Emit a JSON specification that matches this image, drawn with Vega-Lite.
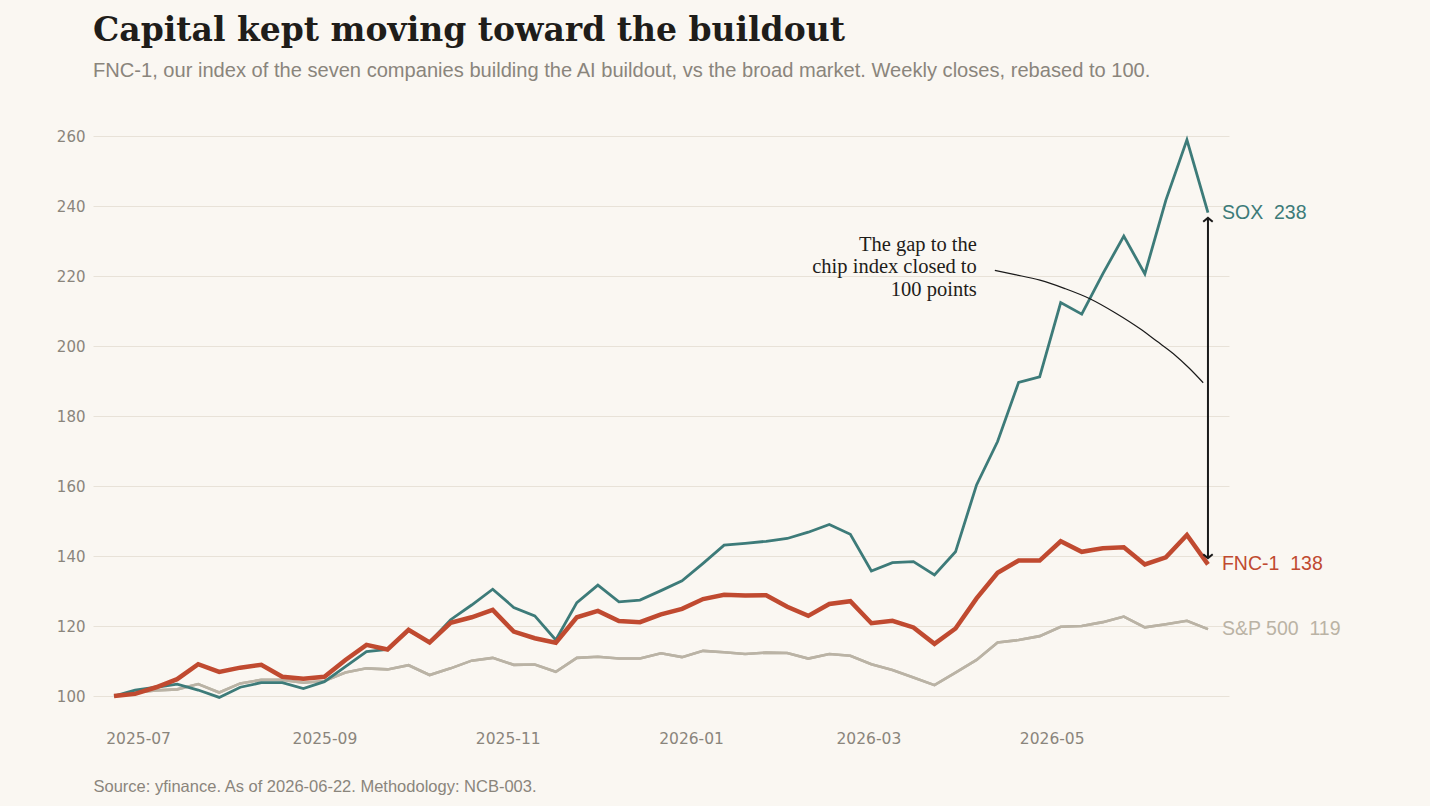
{
  "$schema": "https://vega.github.io/schema/vega-lite/v6.json",
  "width": 1136,
  "height": 609,
  "autosize": {"type": "none"},
  "padding": {"left": 93, "top": 115, "right": 201, "bottom": 82},
  "background": "#faf7f2",
  "title": {
    "text": "Capital kept moving toward the buildout",
    "subtitle": "FNC-1, our index of the seven companies building the AI buildout, vs the broad market. Weekly closes, rebased to 100.",
    "anchor": "start",
    "frame": "group",
    "font": "DejaVu Serif",
    "fontSize": 33,
    "fontWeight": "bold",
    "color": "#1f1d1a",
    "subtitleFont": "Liberation Sans",
    "subtitleFontSize": 20.1,
    "subtitleColor": "#8a857c",
    "subtitlePadding": 13,
    "offset": 34
  },
  "config": {
    "view": {"stroke": null},
    "font": "Liberation Sans"
  },
  "datasets": {
    "weekly": [
      {"date": "2025-06-23", "FNC": 100, "SOX": 100, "SPX": 100},
      {"date": "2025-06-30", "FNC": 100.6, "SOX": 101.7, "SPX": 101.0},
      {"date": "2025-07-07", "FNC": 102.5, "SOX": 102.5, "SPX": 101.6},
      {"date": "2025-07-14", "FNC": 104.8, "SOX": 103.4, "SPX": 101.9},
      {"date": "2025-07-21", "FNC": 109.1, "SOX": 101.7, "SPX": 103.4},
      {"date": "2025-07-28", "FNC": 106.9, "SOX": 99.6, "SPX": 101.0},
      {"date": "2025-08-04", "FNC": 108.1, "SOX": 102.5, "SPX": 103.6},
      {"date": "2025-08-11", "FNC": 108.9, "SOX": 103.8, "SPX": 104.6},
      {"date": "2025-08-18", "FNC": 105.5, "SOX": 103.8, "SPX": 104.6},
      {"date": "2025-08-25", "FNC": 104.9, "SOX": 102.1, "SPX": 103.8},
      {"date": "2025-09-01", "FNC": 105.5, "SOX": 104.1, "SPX": 104.3},
      {"date": "2025-09-08", "FNC": 110.3, "SOX": 108.4, "SPX": 106.7},
      {"date": "2025-09-15", "FNC": 114.6, "SOX": 112.7, "SPX": 107.9},
      {"date": "2025-09-22", "FNC": 113.3, "SOX": 113.3, "SPX": 107.6},
      {"date": "2025-09-29", "FNC": 118.9, "SOX": 118.7, "SPX": 108.8},
      {"date": "2025-10-06", "FNC": 115.3, "SOX": 115.4, "SPX": 106.0},
      {"date": "2025-10-13", "FNC": 120.9, "SOX": 121.8, "SPX": 107.9},
      {"date": "2025-10-20", "FNC": 122.5, "SOX": 126.0, "SPX": 110.1},
      {"date": "2025-10-27", "FNC": 124.6, "SOX": 130.5, "SPX": 110.9},
      {"date": "2025-11-03", "FNC": 118.4, "SOX": 125.3, "SPX": 108.9},
      {"date": "2025-11-10", "FNC": 116.5, "SOX": 122.9, "SPX": 109.0},
      {"date": "2025-11-17", "FNC": 115.2, "SOX": 116.0, "SPX": 106.9},
      {"date": "2025-11-24", "FNC": 122.5, "SOX": 126.7, "SPX": 110.9},
      {"date": "2025-12-01", "FNC": 124.3, "SOX": 131.7, "SPX": 111.2},
      {"date": "2025-12-08", "FNC": 121.4, "SOX": 126.9, "SPX": 110.7},
      {"date": "2025-12-15", "FNC": 121.1, "SOX": 127.4, "SPX": 110.7},
      {"date": "2025-12-22", "FNC": 123.3, "SOX": 130.1, "SPX": 112.2},
      {"date": "2025-12-29", "FNC": 124.9, "SOX": 132.9, "SPX": 111.1},
      {"date": "2026-01-05", "FNC": 127.7, "SOX": 137.9, "SPX": 112.9},
      {"date": "2026-01-12", "FNC": 128.9, "SOX": 143.1, "SPX": 112.5},
      {"date": "2026-01-19", "FNC": 128.7, "SOX": 143.6, "SPX": 112.0},
      {"date": "2026-01-26", "FNC": 128.8, "SOX": 144.2, "SPX": 112.4},
      {"date": "2026-02-02", "FNC": 125.5, "SOX": 145.0, "SPX": 112.3},
      {"date": "2026-02-09", "FNC": 122.9, "SOX": 146.8, "SPX": 110.7},
      {"date": "2026-02-16", "FNC": 126.3, "SOX": 149.0, "SPX": 112.0},
      {"date": "2026-02-23", "FNC": 127.1, "SOX": 146.2, "SPX": 111.5},
      {"date": "2026-03-02", "FNC": 120.8, "SOX": 135.7, "SPX": 109.1},
      {"date": "2026-03-09", "FNC": 121.5, "SOX": 138.1, "SPX": 107.4},
      {"date": "2026-03-16", "FNC": 119.6, "SOX": 138.4, "SPX": 105.3},
      {"date": "2026-03-23", "FNC": 114.9, "SOX": 134.6, "SPX": 103.1},
      {"date": "2026-03-30", "FNC": 119.3, "SOX": 141.2, "SPX": 106.7},
      {"date": "2026-04-06", "FNC": 127.9, "SOX": 160.3, "SPX": 110.3},
      {"date": "2026-04-13", "FNC": 135.2, "SOX": 172.7, "SPX": 115.3},
      {"date": "2026-04-20", "FNC": 138.7, "SOX": 189.6, "SPX": 116.0},
      {"date": "2026-04-27", "FNC": 138.7, "SOX": 191.2, "SPX": 117.1},
      {"date": "2026-05-04", "FNC": 144.2, "SOX": 212.4, "SPX": 119.8},
      {"date": "2026-05-11", "FNC": 141.2, "SOX": 209.1, "SPX": 120.0},
      {"date": "2026-05-18", "FNC": 142.2, "SOX": 220.6, "SPX": 121.1},
      {"date": "2026-05-25", "FNC": 142.5, "SOX": 231.4, "SPX": 122.7},
      {"date": "2026-06-01", "FNC": 137.6, "SOX": 220.6, "SPX": 119.6},
      {"date": "2026-06-08", "FNC": 139.6, "SOX": 241.7, "SPX": 120.5},
      {"date": "2026-06-15", "FNC": 146.0, "SOX": 258.9, "SPX": 121.5},
      {"date": "2026-06-22", "FNC": 137.6, "SOX": 238.1, "SPX": 119.1}
    ],
    "ends": [
      {"date": "2026-06-22", "value": 238.1, "label": "SOX\u00a0\u00a0238", "series": "SOX"},
      {"date": "2026-06-22", "value": 137.6, "label": "FNC-1\u00a0\u00a0138", "series": "FNC-1"},
      {"date": "2026-06-22", "value": 119.1, "label": "S&P 500\u00a0\u00a0119", "series": "S&P 500"}
    ],
    "gap": [
      {"date": "2026-06-22", "top": 236.6, "bottom": 139.4}
    ],
    "heads": [
      {"date": "2026-06-22", "value": 236.6, "dir": "up"},
      {"date": "2026-06-22", "value": 139.4, "dir": "down"}
    ],
    "curve": [
      {"date": "2026-04-12T02:00:00Z", "value": 221.6},
      {"date": "2026-04-18T19:00:00Z", "value": 220.4},
      {"date": "2026-04-27T02:00:00Z", "value": 218.8},
      {"date": "2026-05-05T10:00:00Z", "value": 216.4},
      {"date": "2026-05-13T17:00:00Z", "value": 213.5},
      {"date": "2026-05-22T02:00:00Z", "value": 209.5},
      {"date": "2026-05-30T10:00:00Z", "value": 204.9},
      {"date": "2026-06-04T22:00:00Z", "value": 201.4},
      {"date": "2026-06-10T12:00:00Z", "value": 197.8},
      {"date": "2026-06-15T17:00:00Z", "value": 193.7},
      {"date": "2026-06-20T10:00:00Z", "value": 189.5}
    ],
    "note": [
      {"date": "2026-04-06T02:00:00Z", "value": 228.9, "text": ["The gap to the", "chip index closed to", "100 points"]}
    ]
  },
  "layer": [
    {
      "data": {"name": "weekly"},
      "mark": {"type": "line", "color": "#bab3a5", "strokeWidth": 2.6},
      "encoding": {
        "x": {
          "field": "date",
          "type": "temporal",
          "scale": {
            "type": "utc",
            "domain": [
              {"year": 2025, "month": 6, "date": 16, "utc": true},
              {"year": 2026, "month": 6, "date": 29, "utc": true}
            ]
          },
          "axis": {
            "format": "%Y-%m",
            "tickCount": {"interval": "month", "step": 2},
            "grid": false,
            "domain": false,
            "ticks": false,
            "labelFont": "DejaVu Sans",
            "labelFontSize": 15.5,
            "labelColor": "#8a857c",
            "labelPadding": 7,
            "labelFlush": false,
            "labelOverlap": false,
            "title": "Source: yfinance. As of 2026-06-22. Methodology: NCB-003.",
            "titleAnchor": "start",
            "titleAlign": "left",
            "titleFont": "Liberation Sans",
            "titleFontSize": 16.5,
            "titleFontWeight": "normal",
            "titleColor": "#8a857c",
            "titlePadding": 32
          }
        },
        "y": {
          "field": "SPX",
          "type": "quantitative",
          "scale": {"domain": [92, 266], "nice": false, "zero": false},
          "axis": {
            "values": [100, 120, 140, 160, 180, 200, 220, 240, 260],
            "grid": true,
            "gridColor": "#e8e2d8",
            "gridWidth": 1,
            "domain": false,
            "ticks": false,
            "labelFont": "DejaVu Sans",
            "labelFontSize": 15,
            "labelColor": "#8a857c",
            "labelPadding": 8,
            "title": null
          }
        }
      }
    },
    {
      "mark": {"type": "rule", "color": "#b5afa5", "strokeWidth": 1.5},
      "encoding": {"y": {"datum": 100, "type": "quantitative"}}
    },
    {
      "data": {"name": "weekly"},
      "mark": {"type": "line", "color": "#bab3a5", "strokeWidth": 2.6},
      "encoding": {
        "x": {"field": "date", "type": "temporal"},
        "y": {"field": "SPX", "type": "quantitative"}
      }
    },
    {
      "data": {"name": "weekly"},
      "mark": {"type": "line", "color": "#3d7b79", "strokeWidth": 2.8},
      "encoding": {
        "x": {"field": "date", "type": "temporal"},
        "y": {"field": "SOX", "type": "quantitative"}
      }
    },
    {
      "data": {"name": "weekly"},
      "mark": {"type": "line", "color": "#c04a30", "strokeWidth": 4.5},
      "encoding": {
        "x": {"field": "date", "type": "temporal"},
        "y": {"field": "FNC", "type": "quantitative"}
      }
    },
    {
      "data": {"name": "gap"},
      "mark": {"type": "rule", "color": "#1a1a1a", "strokeWidth": 2},
      "encoding": {
        "x": {"field": "date", "type": "temporal"},
        "y": {"field": "top", "type": "quantitative"},
        "y2": {"field": "bottom"}
      }
    },
    {
      "data": {"name": "heads"},
      "mark": {"type": "point", "filled": false, "stroke": "#1a1a1a", "strokeWidth": 2, "size": 90, "opacity": 1},
      "encoding": {
        "x": {"field": "date", "type": "temporal"},
        "y": {"field": "value", "type": "quantitative"},
        "shape": {
          "field": "dir",
          "type": "nominal",
          "scale": {"domain": ["up", "down"], "range": ["M-1,0.8L0,0L1,0.8", "M-1,-0.8L0,0L1,-0.8"]},
          "legend": null
        }
      }
    },
    {
      "data": {"name": "curve"},
      "mark": {"type": "line", "color": "#1a1a1a", "strokeWidth": 1.2, "interpolate": "monotone"},
      "encoding": {
        "x": {"field": "date", "type": "temporal"},
        "y": {"field": "value", "type": "quantitative"}
      }
    },
    {
      "data": {"name": "note"},
      "mark": {"type": "text", "align": "right", "baseline": "middle", "font": "Liberation Serif", "fontSize": 20.5, "lineHeight": 22.5, "color": "#1f1d1a"},
      "encoding": {
        "x": {"field": "date", "type": "temporal"},
        "y": {"field": "value", "type": "quantitative"},
        "text": {"field": "text"}
      }
    },
    {
      "data": {"name": "ends"},
      "mark": {"type": "text", "align": "left", "baseline": "middle", "dx": 14, "font": "Liberation Sans", "fontSize": 19.5},
      "encoding": {
        "x": {"field": "date", "type": "temporal"},
        "y": {"field": "value", "type": "quantitative"},
        "text": {"field": "label"},
        "color": {
          "field": "series",
          "type": "nominal",
          "scale": {"domain": ["SOX", "FNC-1", "S&P 500"], "range": ["#3d7b79", "#c04a30", "#bab3a5"]},
          "legend": null
        }
      }
    }
  ]
}
